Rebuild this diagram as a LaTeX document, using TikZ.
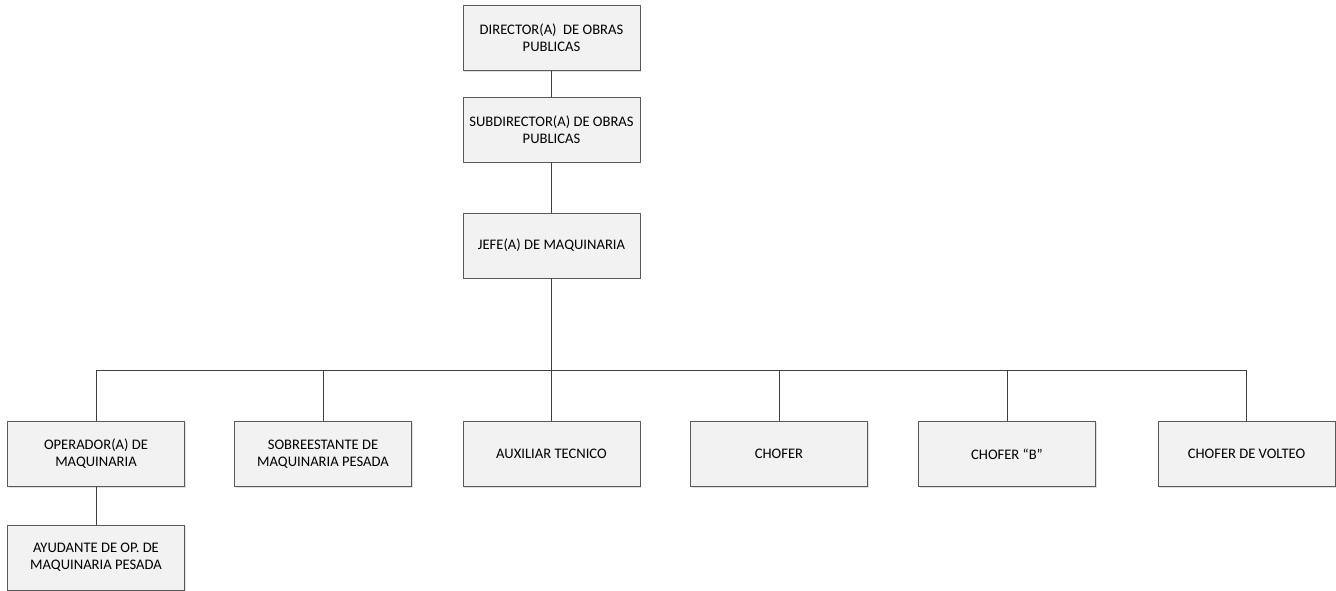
\documentclass[tikz,border=0pt]{standalone}
\usepackage{fontspec}
\setmainfont{Carlito}
\usetikzlibrary{shadows}
\definecolor{boxfill}{HTML}{F2F2F2}
\definecolor{boxline}{HTML}{595959}
\definecolor{linkline}{HTML}{404040}

\begin{document}
\begin{tikzpicture}[
        puesto/.style={draw=boxline, fill=boxfill, line width=0.5pt,
            minimum width=3.54cm, minimum height=1.3cm, align=center,
            inner xsep=1.5pt, font=\fontsize{8.3}{9.8}\selectfont,
            drop shadow={shadow xshift=0.8pt, shadow yshift=-0.8pt, opacity=0.25, fill=gray}},
        liga/.style={draw=linkline, line width=0.5pt}
    ]
        \useasboundingbox (0, 0) rectangle (26.72, -11.8);

        \node [puesto] (director) at (11.03, -0.76) {DIRECTOR(A)\ \ DE OBRAS\\PUBLICAS};
        \node [puesto] (subdirector) at (11.03, -2.59) {SUBDIRECTOR(A) DE OBRAS\\PUBLICAS};
        \node [puesto] (jefe) at (11.03, -4.91) {JEFE(A) DE MAQUINARIA};

        \node [puesto] (operador) at (1.92, -9.08) {OPERADOR(A) DE\\MAQUINARIA};
        \node [puesto] (sobreestante) at (6.46, -9.08) {SOBREESTANTE DE\\MAQUINARIA PESADA};
        \node [puesto] (auxiliar) at (11.03, -9.08) {AUXILIAR TECNICO};
        \node [puesto] (chofer) at (15.58, -9.08) {CHOFER};
        \node [puesto] (choferb) at (20.14, -9.08) {CHOFER “B”};
        \node [puesto] (volteo) at (24.93, -9.08) {CHOFER DE VOLTEO};
        \node [puesto] (ayudante) at (1.92, -11.15) {AYUDANTE DE OP. DE\\MAQUINARIA PESADA};

        \coordinate (barra) at (11.03, -7.4);

        \draw [liga] (director) to (subdirector);
        \draw [liga] (subdirector) to (jefe);
        \draw [liga] (jefe) to (barra);
        \draw [liga] (operador) to (ayudante);
        \draw [liga] (operador |- barra) to (volteo |- barra);

        \foreach \hijo in {operador, sobreestante, auxiliar, chofer, choferb, volteo}
        {
            \draw [liga] (\hijo |- barra) to (\hijo);
        }
    \end{tikzpicture}
\end{document}
